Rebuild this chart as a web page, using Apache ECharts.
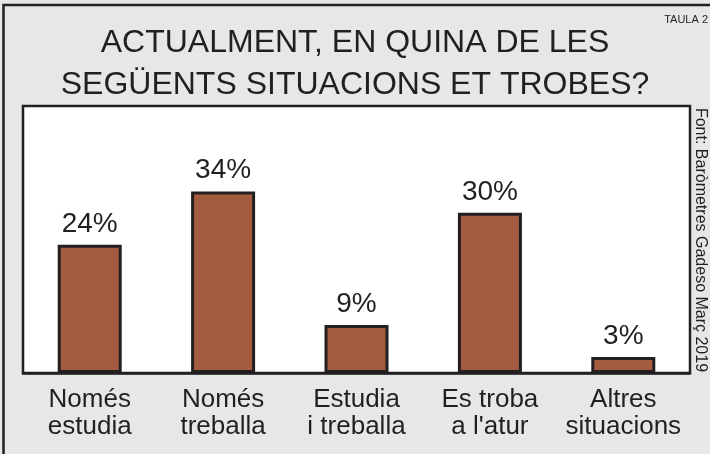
<!DOCTYPE html>
<html>
<head>
<meta charset="utf-8">
<title>Taula 2</title>
<script src="https://cdn.jsdelivr.net/npm/echarts@6/dist/echarts.min.js"></script>
<style>
  html, body { margin: 0; padding: 0; background: #e6e7e8; }
  #chart { width: 710px; height: 454px; }
</style>
</head>
<body>
<div id="chart"></div>
<script>
// dades
var categories = ['Només\nestudia', 'Només\ntreballa', 'Estudia\ni treballa', 'Es troba\na l\'atur', 'Altres\nsituacions'];
var percents = [24, 34, 9, 30, 3];
var titleText = 'ACTUALMENT, EN QUINA DE LES\nSEGÜENTS SITUACIONS ET TROBES?';
var tableTag = 'TAULA 2';
var sourceText = 'Font: Baròmetres Gadeso Març 2019';

var ink = '#231f20';
var chart = echarts.init(document.getElementById('chart'));

chart.setOption({
    backgroundColor: '#e6e7e8',
    animation: false,
    title: {
        text: titleText,
        left: 'center',
        top: 17,
        textStyle: {
            fontFamily: 'Liberation Sans',
            fontSize: 32,
            fontWeight: 'normal',
            lineHeight: 42,
            color: ink
        }
    },
    grid: {
        left: 23,
        top: 106,
        width: 667,
        height: 267,
        show: true,
        backgroundColor: '#ffffff',
        borderColor: ink,
        borderWidth: 2.5
    },
    xAxis: {
        type: 'category',
        data: categories,
        axisLine: { show: true, lineStyle: { color: ink, width: 2.5 } },
        axisTick: { show: false },
        axisLabel: {
            margin: 13,
            interval: 0,
            fontFamily: 'Liberation Sans',
            fontSize: 26,
            lineHeight: 27,
            color: ink
        }
    },
    yAxis: {
        type: 'value',
        min: 0,
        max: 50,
        show: false,
        splitLine: { show: false }
    },
    series: [{
        type: 'bar',
        data: percents,
        barWidth: 64,
        itemStyle: {
            color: '#a45c40',
            borderColor: ink,
            borderWidth: 3
        },
        label: {
            show: true,
            position: 'top',
            distance: 7,
            formatter: '{c}%',
            fontFamily: 'Liberation Sans',
            fontSize: 28,
            color: ink
        }
    }],
    graphic: [
        {
            type: 'rect',
            silent: true,
            shape: { x: 3.5, y: 5, width: 800, height: 600 },
            style: { fill: 'none', stroke: ink, lineWidth: 2.5 }
        },
        {
            type: 'text',
            right: 2,
            top: 14,
            style: {
                text: tableTag,
                fontFamily: 'Liberation Sans',
                fontSize: 11,
                fill: ink
            }
        },
        {
            type: 'text',
            x: 700,
            y: 240,
            rotation: -Math.PI / 2,
            style: {
                text: sourceText,
                fontFamily: 'Liberation Sans',
                fontSize: 16,
                fill: ink,
                align: 'center',
                verticalAlign: 'middle'
            }
        }
    ]
});
</script>
</body>
</html>
